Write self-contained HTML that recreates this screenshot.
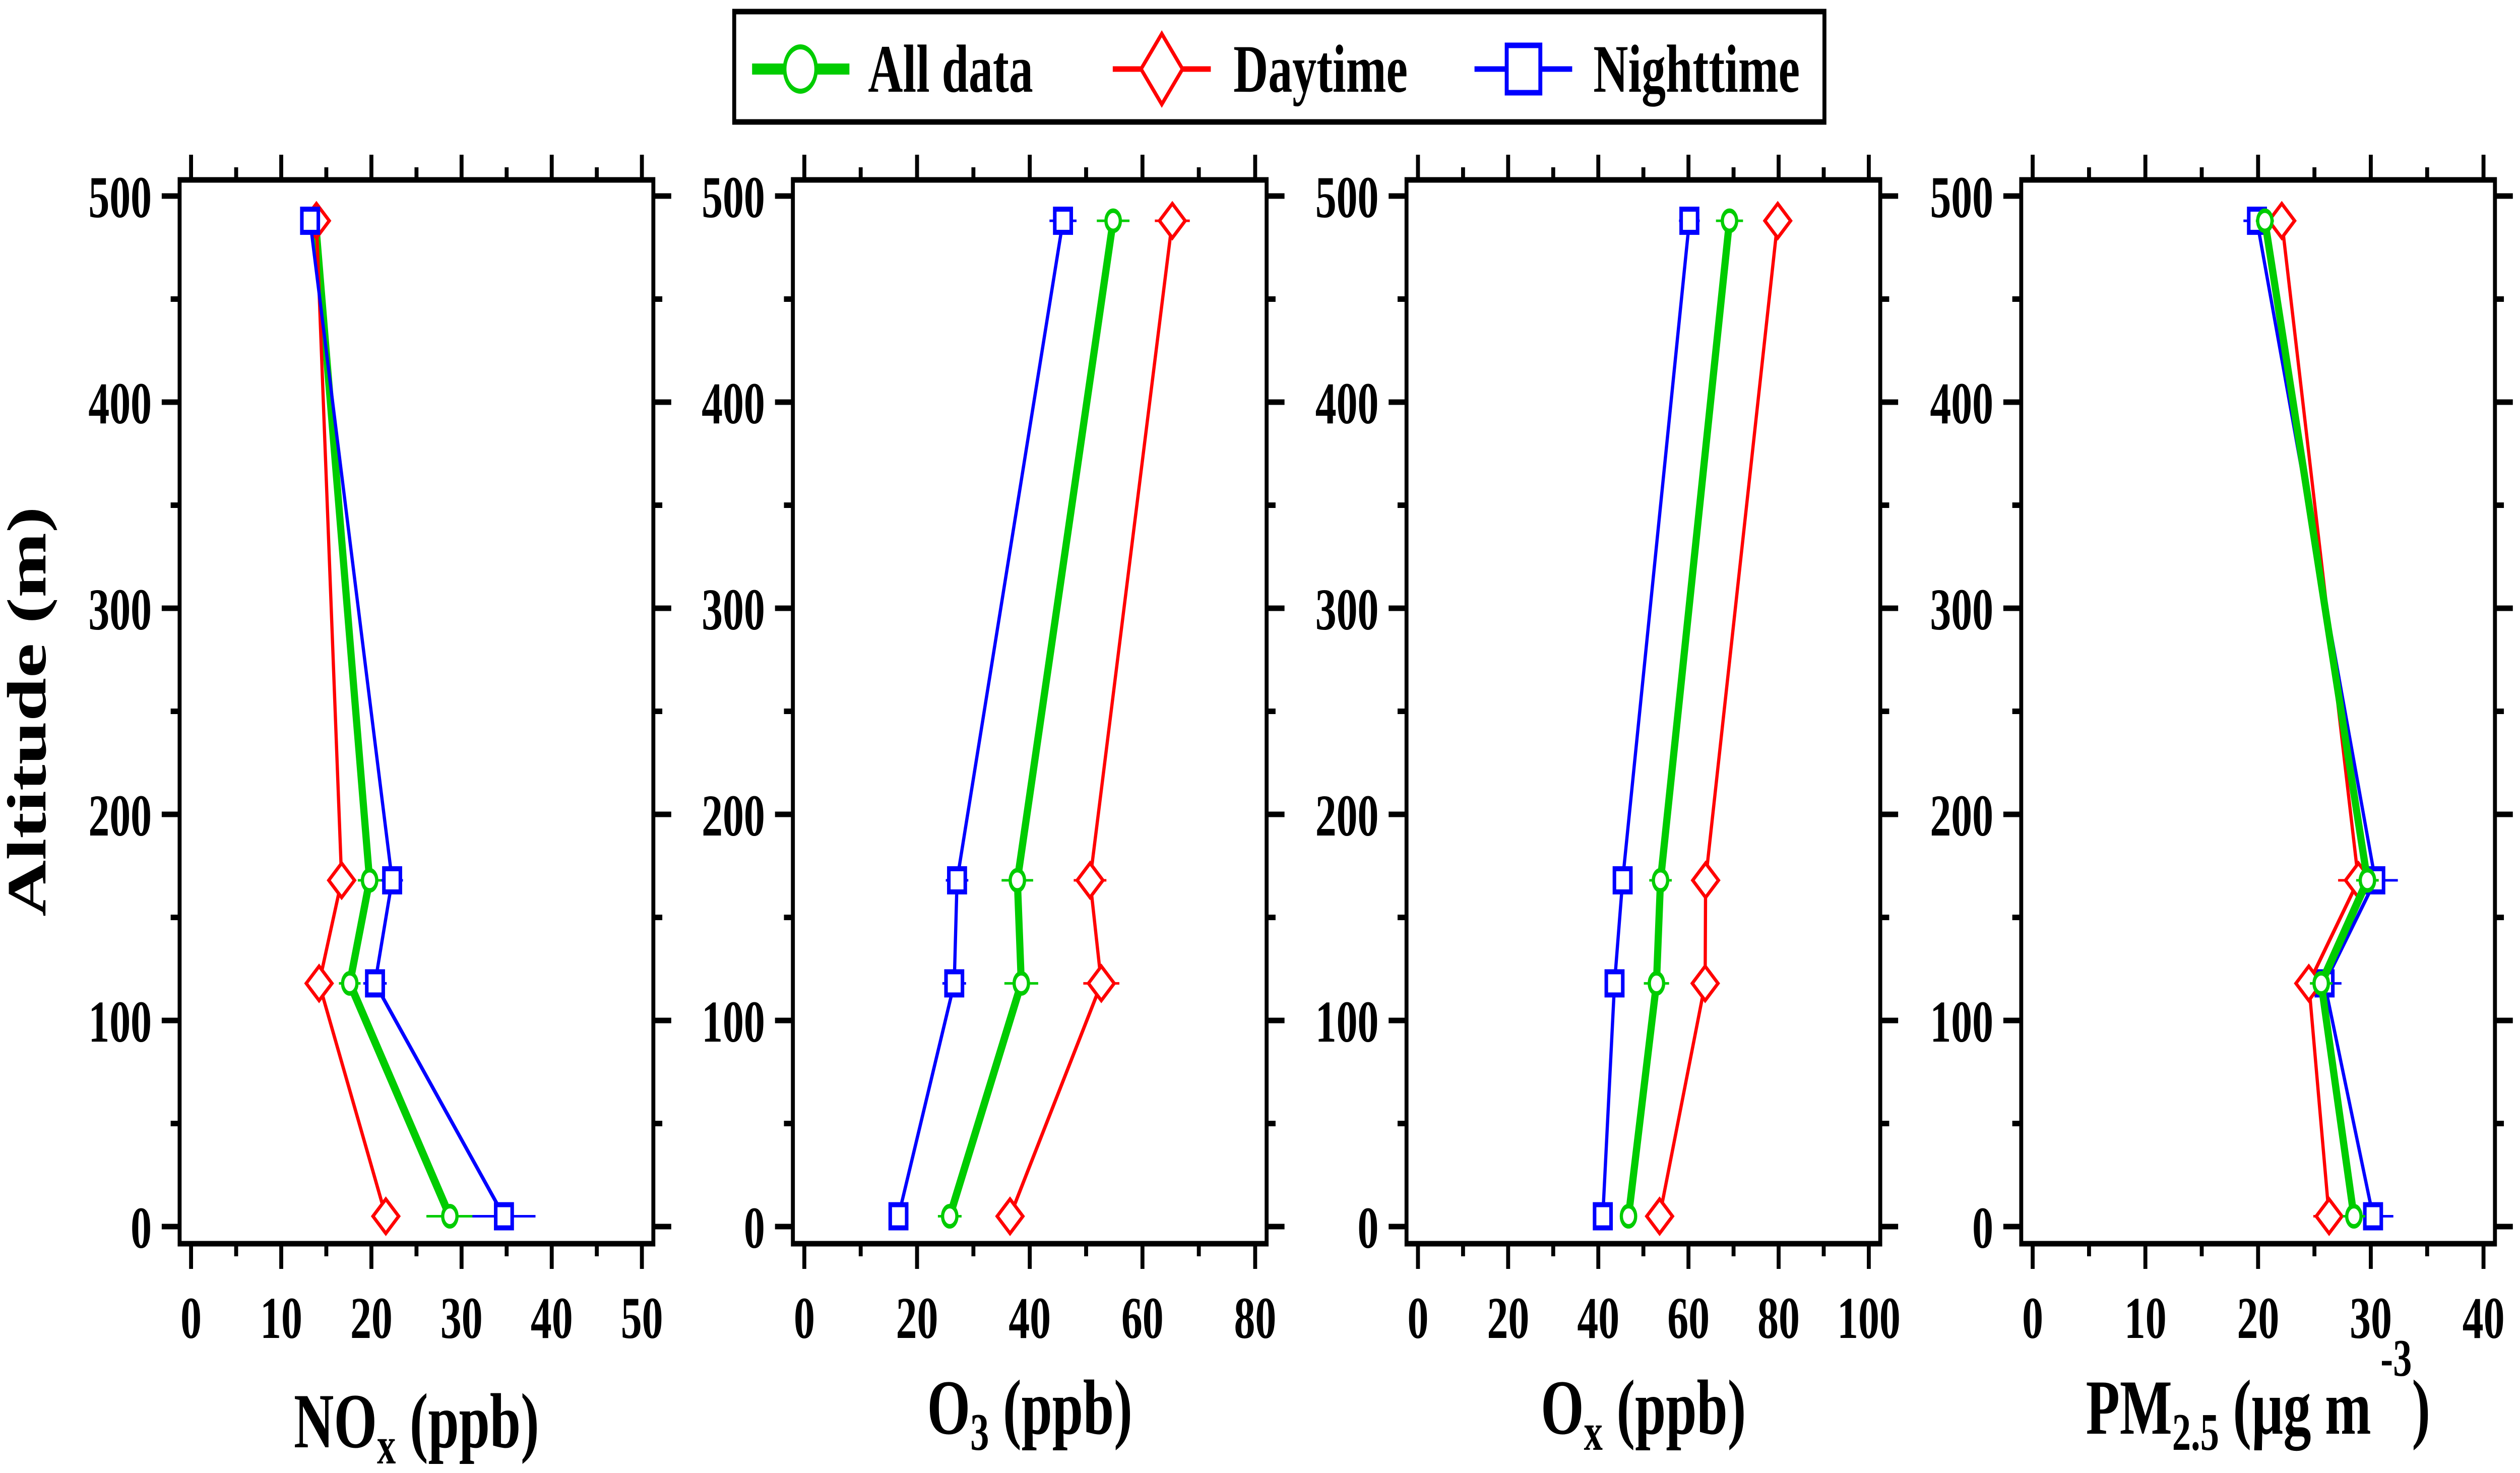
<!DOCTYPE html>
<html><head><meta charset="utf-8">
<style>
html,body{margin:0;padding:0;background:#fff;overflow:hidden;width:100%;height:100%;}
svg{display:block;width:100vw;height:100vh;font-family:"Liberation Serif","DejaVu Serif",serif;font-weight:bold;}
</style></head>
<body>
<svg id="chart" viewBox="0 0 7043 2923" preserveAspectRatio="none" xmlns="http://www.w3.org/2000/svg">
<rect x="0" y="0" width="7043" height="2923" fill="#fff"/>
<g id="legend">
  <rect x="2052" y="23" width="3047" height="219" fill="#fff" stroke="#000" stroke-width="11"/>
  <g>
    <line x1="2102" y1="137" x2="2374" y2="137" stroke="#00cc00" stroke-width="22"/>
    <circle cx="2237" cy="137" r="44" fill="#fff" stroke="#00cc00" stroke-width="10"/>
    <text x="2426" y="182" font-size="135" fill="#000">All data</text>
  </g>
  <g>
    <line x1="3110" y1="137" x2="3384" y2="137" stroke="#ff0000" stroke-width="11"/>
    <polygon points="3247,67 3305,137 3247,207 3189,137" fill="#fff" stroke="#ff0000" stroke-width="9"/>
    <text x="3447" y="182" font-size="135" fill="#000">Daytime</text>
  </g>
  <g>
    <line x1="4121" y1="137" x2="4394" y2="137" stroke="#0000ff" stroke-width="11"/>
    <rect x="4211" y="90" width="94" height="94" fill="#fff" stroke="#0000ff" stroke-width="11"/>
    <text x="4453" y="182" font-size="135" fill="#000">Nighttime</text>
  </g>
</g>
<text x="0" y="0" font-size="155" text-anchor="middle" transform="translate(127,1412) rotate(-90)">Altitude (m)</text>
<g id="panels"></g>
</svg>
<script>
// Data
const altitudes = [5, 118, 168, 488];
const noxAll = [28.7, 17.6, 19.8, 13.8];
const noxDay = [21.6, 14.2, 16.7, 13.9];
const noxNight = [34.7, 20.4, 22.3, 13.2];
const noxAllErr = [2.6, 1.2, 1.3, 0.5];
const noxDayErr = [0.6, 0.6, 0.6, 0.4];
const noxNightErr = [3.5, 1.3, 1.2, 0.5];
const o3All = [25.8, 38.5, 37.8, 54.8];
const o3Day = [36.5, 52.7, 50.7, 65.3];
const o3Night = [16.7, 26.6, 27.1, 45.9];
const o3AllErr = [2.1, 3.0, 2.8, 2.9];
const o3DayErr = [1.0, 3.2, 2.9, 3.1];
const o3NightErr = [1.0, 2.1, 2.0, 2.4];
const oxAll = [46.7, 52.9, 53.8, 69.1];
const oxDay = [53.6, 63.7, 63.8, 79.8];
const oxNight = [41.0, 43.6, 45.4, 60.2];
const oxAllErr = [1.5, 2.8, 2.5, 3.0];
const oxDayErr = [1.0, 1.5, 1.5, 3.1];
const oxNightErr = [1.0, 1.0, 1.0, 2.3];
const pmAll = [28.5, 25.6, 29.7, 20.6];
const pmDay = [26.3, 24.5, 28.9, 22.1];
const pmNight = [30.2, 25.9, 30.4, 19.9];
const pmAllErr = [1.0, 1.0, 1.0, 0.8];
const pmDayErr = [1.4, 1.1, 1.8, 0.8];
const pmNightErr = [1.8, 1.5, 2.0, 1.2];
const yTicks = [0, 100, 200, 300, 400, 500];
const noxTicks = [0, 10, 20, 30, 40, 50];
const o3Ticks = [0, 20, 40, 60, 80];
const oxTicks = [0, 20, 40, 60, 80, 100];
const pmTicks = [0, 10, 20, 30, 40];

const NS = "http://www.w3.org/2000/svg";
const root = document.getElementById('panels');
function mk(tag, attrs, parent){
  const e = document.createElementNS(NS, tag);
  for (const k in attrs) e.setAttribute(k, attrs[k]);
  (parent||root).appendChild(e);
  return e;
}
const TOP = 357, BOT = 2468, W = 1324, PAD = 32;
const yOf = a => 2434 - (a/500)*(2434-389);

const panels = [
  {key:'nox', L:502, max:50, ticks:noxTicks, minor:5, all:noxAll, day:noxDay, night:noxNight, ea:noxAllErr, ed:noxDayErr, en:noxNightErr, title:['NO','x',' (ppb)'], tb:2872},
  {key:'o3', L:2216, max:80, ticks:o3Ticks, minor:10, all:o3All, day:o3Day, night:o3Night, ea:o3AllErr, ed:o3DayErr, en:o3NightErr, title:['O','3',' (ppb)'], tb:2845},
  {key:'ox', L:3931, max:100, ticks:oxTicks, minor:10, all:oxAll, day:oxDay, night:oxNight, ea:oxAllErr, ed:oxDayErr, en:oxNightErr, title:['O','x',' (ppb)'], tb:2845},
  {key:'pm25', L:5649, max:40, ticks:pmTicks, minor:5, all:pmAll, day:pmDay, night:pmNight, ea:pmAllErr, ed:pmDayErr, en:pmNightErr, title:['PM','2.5',' (µg m'], tb:2845}
];

panels.forEach(p => {
  const g = mk('g', {});
  
  
  const x0 = p.L + PAD, x1 = p.L + W - PAD;
  const xOf = v => x0 + (v/p.max)*(x1-x0);
  const tg = mk('g', {stroke:'#000', 'stroke-width':11}, g);
  
  
  for (let v = 0; v <= p.max + 1e-9; v += p.minor) {
    const major = p.ticks.indexOf(Math.round(v*10)/10) >= 0;
    const len = major ? 50 : 25;
    const x = xOf(v);
    mk('line', {x1:x, y1:TOP, x2:x, y2:TOP-len}, tg);
    mk('line', {x1:x, y1:BOT, x2:x, y2:BOT+len}, tg);
  }
  for (let a = 0; a <= 500; a += 50) {
    const major = a % 100 === 0;
    const len = major ? 50 : 25;
    const y = yOf(a);
    mk('line', {x1:p.L, y1:y, x2:p.L-len, y2:y}, tg);
    mk('line', {x1:p.L+W, y1:y, x2:p.L+W+len, y2:y}, tg);
  }
  const fr = mk('rect', {x:p.L, y:TOP, width:W, height:BOT-TOP, fill:'none', stroke:'#000', 'stroke-width':11}, g);
  
  
  p.ticks.forEach(v => {
    const t = mk('text', {x:xOf(v), y:2655, 'font-size':118, 'text-anchor':'middle'}, g);
    
    
    t.textContent = v;
  });
  yTicks.forEach(a => {
    const t = mk('text', {x:p.L-78, y:yOf(a)+42, 'font-size':118, 'text-anchor':'end'}, g);
    
    
    t.textContent = a;
  });
  const tt = mk('text', {x:p.L+W/2, y:p.tb, 'font-size':155, 'text-anchor':'middle'}, g);
  
  
  const s1 = mk('tspan', {}, tt); s1.textContent = p.title[0];
  const s2 = mk('tspan', {dy:32, 'font-size':105}, tt); s2.textContent = p.title[1];
  const s3 = mk('tspan', {dy:-32}, tt); s3.textContent = p.title[2];
  if (p.key === 'pm25') {
    const s4 = mk('tspan', {dy:-115, 'font-size':105}, tt); s4.textContent = ' -3';
    const s5 = mk('tspan', {dy:115}, tt); s5.textContent = ')';
  }
  const series = [
    {name:'night', vals:p.night, err:p.en, color:'#0000ff', lw:9, marker:'square'},
    {name:'day', vals:p.day, err:p.ed, color:'#ff0000', lw:9, marker:'diamond'},
    {name:'all', vals:p.all, err:p.ea, color:'#00cc00', lw:20, marker:'circle'}
  ];
  if (p.key === 'nox') series.reverse();
  series.forEach(s => {
    const sg = mk('g', {}, g);
    
    
    const pts = s.vals.map((v,i) => xOf(v) + ',' + yOf(altitudes[i])).join(' ');
    const pl = mk('polyline', {points:pts, fill:'none', stroke:s.color, 'stroke-width':s.lw, 'stroke-linejoin':'miter'}, sg);
    
    
    s.vals.forEach((v,i) => {
      const x = xOf(v), y = yOf(altitudes[i]);
      const eb = mk('line', {x1:xOf(v - s.err[i]), y1:y, x2:xOf(v + s.err[i]), y2:y, stroke:s.color, 'stroke-width':5}, sg);
      
      
      let m;
      if (s.marker === 'square') {
        m = mk('rect', {x:x-23, y:y-23, width:46, height:46, fill:'#fff', stroke:s.color, 'stroke-width':10}, sg);
      } else if (s.marker === 'diamond') {
        m = mk('polygon', {points:`${x},${y-34} ${x+36},${y} ${x},${y+34} ${x-36},${y}`, fill:'#fff', stroke:s.color, 'stroke-width':8}, sg);
      } else {
        m = mk('circle', {cx:x, cy:y, r:20, fill:'#fff', stroke:s.color, 'stroke-width':9}, sg);
      }
      
      
    });
  });
});
</script>
</body></html>
